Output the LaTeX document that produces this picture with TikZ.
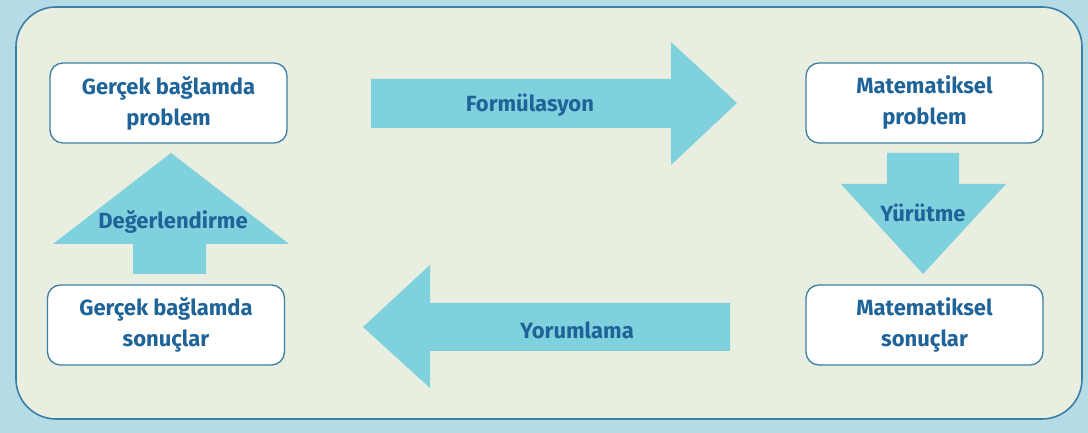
\documentclass[tikz,border=0pt]{standalone}
\usepackage{fontspec}
\setmainfont{Fira Sans}
\definecolor{outerbg}{HTML}{B5DCE6}
\definecolor{innerbg}{HTML}{E8EEE0}
\definecolor{frameblue}{HTML}{3B7EA6}
\definecolor{arrowcyan}{HTML}{7FD1DD}
\definecolor{textblue}{HTML}{1E6498}
\begin{document}
\begin{tikzpicture}[x=1pt,y=1pt,
  box/.style={draw=frameblue, line width=1.3pt, fill=white, rounded corners=13pt,
    minimum width=237pt, minimum height=80pt, align=center, inner sep=0pt,
    text=textblue, font=\fontsize{22}{31}\selectfont\bfseries},
  lbl/.style={text=textblue, font=\fontsize{22}{26}\selectfont\bfseries, inner sep=0pt},
  blockarrow/.style={fill=arrowcyan, draw=none}]
\fill[outerbg] (0,0) rectangle (1088,433);
\useasboundingbox (0,0) rectangle (1088,433);
\draw[frameblue, line width=1.6pt, fill=innerbg, rounded corners=40pt] (16,14) rectangle (1082,426);
% boxes
\node[box] (gp) at (168.5,330) {Gerçek bağlamda\\problem};
\node[box] (mp) at (924.5,330) {Matematiksel\\problem};
\node[box] (ms) at (924.5,108) {Matematiksel\\sonuçlar};
\node[box] (gs) at (166,108) {Gerçek bağlamda\\sonuçlar};
% Formulasyon arrow
\fill[blockarrow] (371,354) -- (671,354) -- (671,391) -- (737,330) -- (671,268) -- (671,305) -- (371,305) -- cycle;
\node[lbl] (f) at (530,328) {Formülasyon};
% Yurutme arrow
\fill[blockarrow] (887,280) -- (959,280) -- (959,249) -- (1006,249) -- (923,159) -- (841,249) -- (887,249) -- cycle;
\node[lbl] (y) at (923,220) {Yürütme};
% Yorumlama arrow
\fill[blockarrow] (730,130) -- (430,130) -- (430,168) -- (363,106) -- (430,45) -- (430,82) -- (730,82) -- cycle;
\node[lbl] (yo) at (577,103) {Yorumlama};
% Degerlendirme arrow
\fill[blockarrow] (133,159) -- (206,159) -- (206,189) -- (289,189) -- (171,280) -- (53,189) -- (133,189) -- cycle;
\node[lbl] (d) at (173,211) {Değerlendirme};
\end{tikzpicture}
\end{document}
